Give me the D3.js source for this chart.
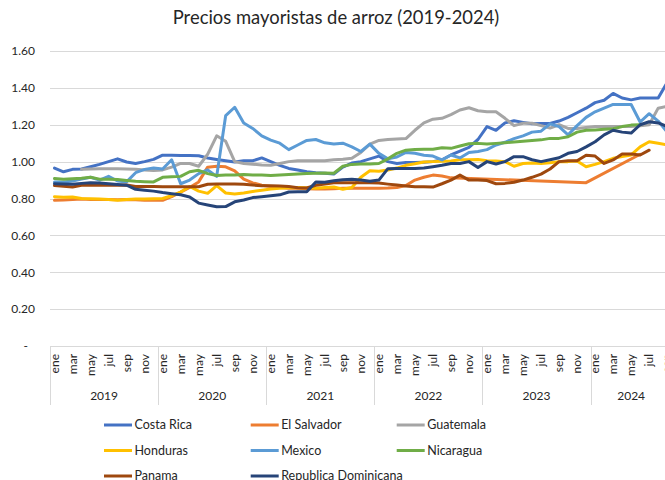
<!DOCTYPE html>
<html>
<head>
<meta charset="utf-8">
<script src="https://cdn.jsdelivr.net/npm/d3@7"></script>
<style>
body { margin: 0; background: #fff; }
svg { display: block; font-family: Lato, 'Open Sans', sans-serif; }
</style>
</head>
<body>
<script>
// category labels
var monthNames = ['ene', 'feb', 'mar', 'abr', 'may', 'jun', 'jul', 'ago', 'sep', 'oct', 'nov', 'dic'];
var years = [2019, 2020, 2021, 2022, 2023, 2024];
var yTicks = [0, 0.2, 0.4, 0.6, 0.8, 1.0, 1.2, 1.4, 1.6];

// monthly prices, ene 2019 .. sep 2024 (null = no value, line is connected over it)
var costaRica = [
	0.965, 0.945, 0.958, 0.96, 0.972, 0.985, 1.0, 1.015, 0.998, 0.99, 1.0, 1.012,
	1.035, 1.034, 1.033, 1.033, 1.032, 1.02, 1.012, 1.005, 0.998, 1.005, 1.005, 1.02,
	1.0, 0.98, 0.963, 0.955, 0.945, 0.94, 0.937, 0.933, 0.97, 0.992, 1.0, 1.015,
	1.03, 1.0, 0.99, 0.995, 0.995, 0.997, 1.0, 1.01, 1.036, 1.057, 1.077, 1.12,
	1.19, 1.17, 1.21, 1.222, 1.213, 1.205, 1.207, 1.207, 1.22, 1.24, 1.265, 1.29,
	1.32, 1.333, 1.37, 1.345, 1.335, 1.345, 1.345, 1.345, 1.43
];
var elSalvador = [
	0.79, 0.792, 0.795, 0.797, 0.795, 0.795, 0.795, 0.793, 0.795, 0.793, 0.79, 0.79,
	0.79, 0.81, 0.835, 0.86, 0.89, 0.97, 0.975, 0.972, 0.95, 0.905, 0.885, 0.872,
	0.865, 0.86, 0.855, 0.855, 0.853, 0.852, 0.852, 0.853, 0.855, 0.855, 0.855, 0.856,
	0.856, 0.857, 0.86, 0.87, 0.9, 0.915, 0.927, 0.922, 0.912, null, null, null,
	null, null, null, null, null, null, null, null, null, null, null, 0.886,
	null, null, null, null, null, 1.04, null, null, null
];
var guatemala = [
	null, null, null, 0.958, 0.96, 0.962, 0.962, 0.962, 0.96, 0.958, 0.955, 0.952,
	0.955, 0.97, 0.99, 0.99, 0.975, 1.04, 1.14, 1.11, 1.0, 0.99, 0.986, 0.982,
	0.98, 0.99, 1.0, 1.005, 1.005, 1.005, 1.005, 1.01, 1.013, 1.018, 1.05, 1.095,
	1.115, 1.12, 1.123, 1.125, 1.17, 1.21, 1.23, 1.235, 1.255, 1.28, 1.292, 1.276,
	1.27, 1.27, 1.235, 1.195, 1.208, 1.208, 1.195, 1.182, 1.2, 1.18, 1.18, 1.185,
	1.19, 1.19, 1.19, 1.19, 1.19, 1.195, 1.2, 1.29, 1.3
];
var honduras = [
	0.81, 0.807, 0.808, 0.8, 0.798, 0.797, 0.795, 0.79, 0.795, 0.797, 0.797, 0.798,
	0.8, 0.815, 0.835, 0.865, 0.84, 0.828, 0.87, 0.83, 0.825, 0.83, 0.838, 0.845,
	0.852, 0.855, 0.858, 0.86, 0.858, 0.855, 0.86, 0.862, 0.85, 0.86, 0.915, 0.95,
	0.948, 0.955, 0.965, 0.98, 0.988, 0.998, 1.0, 1.002, 1.004, 1.01, 1.01, 1.012,
	1.005, 1.003, 1.0, 0.975, 0.99, 0.993, 0.99, 0.994, 1.0, 1.0, 1.003, 0.972,
	0.985, 1.0, 1.018, 1.027, 1.036, 1.08, 1.108, 1.1, 1.09
];
var mexico = [
	0.89, 0.89, 0.895, 0.905, 0.915, 0.9, 0.92, 0.895, 0.89, 0.94, 0.958, 0.965,
	0.96, 1.01, 0.88, 0.9, 0.935, 0.955, 0.92, 1.25, 1.295, 1.21, 1.18, 1.14,
	1.117, 1.1, 1.065, 1.09, 1.115, 1.12, 1.102, 1.095, 1.1, 1.08, 1.055, 1.095,
	1.045, 1.015, 1.025, 1.05, 1.045, 1.035, 1.03, 1.009, 1.036, 1.02, 1.05, 1.055,
	1.065, 1.09, 1.105, 1.125, 1.14, 1.16, 1.165, 1.205, 1.19, 1.145, 1.195, 1.24,
	1.27, 1.29, 1.31, 1.31, 1.31, 1.215, 1.26, 1.22, 1.16
];
var nicaragua = [
	0.908, 0.905, 0.907, 0.91, 0.915, 0.905, 0.905, 0.903, 0.898, 0.893, 0.891, 0.89,
	0.915, 0.918, 0.92, 0.945, 0.953, 0.935, 0.925, 0.927, 0.928, 0.93, 0.928, 0.927,
	0.925, 0.927, 0.93, 0.933, 0.935, 0.937, 0.938, 0.937, 0.975, 0.985, 0.987, 0.987,
	0.99, 1.015, 1.045, 1.062, 1.066, 1.067, 1.067, 1.075, 1.072, 1.085, 1.097, 1.099,
	1.095, 1.099, 1.103, 1.107, 1.111, 1.115, 1.118, 1.126, 1.126, 1.135, 1.16, 1.17,
	1.172, 1.175, 1.178, 1.19, 1.198, 1.2, null, null, null
];
var panama = [
	0.87, 0.866, 0.862, 0.872, 0.872, 0.872, 0.872, 0.872, 0.873, 0.865, 0.865, 0.865,
	0.864, 0.864, 0.864, 0.864, 0.864, 0.877, 0.879, 0.879, 0.879, 0.877, 0.873, 0.869,
	0.869, 0.868, 0.865, 0.858, 0.857, 0.872, 0.879, 0.885, 0.886, 0.886, 0.886, 0.886,
	0.884, 0.878, 0.873, 0.868, 0.864, 0.864, 0.862, 0.88, 0.9, 0.927, 0.9, 0.9,
	0.897, 0.88, 0.882, 0.888, 0.9, 0.915, 0.932, 0.96, 1.0, 1.005, 1.005, 1.035,
	1.03, 0.99, 1.009, 1.041, 1.041, 1.036, 1.062, null, null
];
var repDominicana = [
	0.88, 0.878, 0.877, 0.882, 0.886, 0.884, 0.88, 0.876, 0.872, 0.85, 0.845, 0.84,
	0.832, 0.826, 0.82, 0.808, 0.775, 0.765, 0.755, 0.756, 0.782, 0.792, 0.805, 0.81,
	0.815, 0.82, 0.835, 0.837, 0.837, 0.89, 0.888, 0.896, 0.902, 0.904, 0.9, 0.893,
	0.9, 0.962, 0.963, 0.963, 0.963, 0.965, 0.972, 0.98, 0.99, 0.99, 1.0, 0.968,
	1.0, 0.987, 1.0, 1.027, 1.027, 1.01, 1.0, 1.01, 1.021, 1.045, 1.055, 1.08,
	1.108, 1.145, 1.17, 1.16, 1.155, 1.2, 1.216, 1.21, 1.19
];

var countries = ['Costa Rica', 'El Salvador', 'Guatemala', 'Honduras', 'Mexico', 'Nicaragua', 'Panama', 'Republica Dominicana'];
var seriesValues = [costaRica, elSalvador, guatemala, honduras, mexico, nicaragua, panama, repDominicana];
var colors = ['#4472C4', '#ED7D31', '#A5A5A5', '#FFC000', '#5B9BD5', '#70AD47', '#9E480E', '#264478'];

// layout
var svgW = 665, svgH = 480;
var left = 50, monthW = 9.01;
var top_y = 51, bottom_y = 346;
var nMonths = costaRica.length;
var gridColor = '#d9d9d9', textColor = '#262626';

function plot_it() {
	var svg = d3.select('body').append('svg')
		.attr('width', svgW)
		.attr('height', svgH);

	var x = d3.scaleBand()
		.domain(d3.range(nMonths))
		.range([left, left + nMonths * monthW]);
	var right = left + nMonths * monthW;
	var y = d3.scaleLinear()
		.domain([0, 1.6])
		.range([bottom_y, top_y]);

	// title
	svg.append('text')
		.attr('x', 336).attr('y', 24)
		.attr('text-anchor', 'middle')
		.attr('font-size', '18.4px')
		.attr('fill', textColor)
		.text('Precios mayoristas de arroz (2019-2024)');

	// gridlines
	svg.append('g').attr('id', 'grid')
		.selectAll('line')
		.data(yTicks)
		.enter()
		.append('line')
		.attr('x1', left).attr('x2', right)
		.attr('y1', function(d){return Math.round(y(d)) + 0.5})
		.attr('y2', function(d){return Math.round(y(d)) + 0.5})
		.attr('stroke', gridColor)
		.attr('stroke-width', 1);

	// y axis labels
	var yAxis = d3.axisLeft(y)
		.tickValues(yTicks)
		.tickSize(0)
		.tickPadding(15)
		.tickFormat(function(d){return d === 0 ? '-' : d3.format('.2f')(d)});
	var yg = svg.append('g').attr('id', 'yaxis')
		.attr('transform', 'translate(' + left + ',0)')
		.call(yAxis);
	yg.select('.domain').remove();
	yg.selectAll('text')
		.attr('font-size', '12px')
		.attr('font-family', 'Lato, sans-serif')
		.attr('fill', textColor);
	yg.selectAll('.tick')
		.filter(function(d){return d === 0})
		.select('text')
		.attr('x', -22);

	// category axis: month labels, year labels, separators
	var xg = svg.append('g').attr('id', 'xaxis');
	var monthIdx = d3.range(nMonths).filter(function(i){return i % 2 === 0});
	xg.selectAll('.month')
		.data(monthIdx)
		.enter()
		.append('text')
		.attr('class', 'month')
		.attr('transform', function(i){
			return 'translate(' + (x(i) + x.bandwidth() / 2) + ',354) rotate(-90)';
		})
		.attr('text-anchor', 'end')
		.attr('dy', '0.35em')
		.attr('font-size', '12px')
		.attr('fill', textColor)
		.text(function(i){return monthNames[i % 12]});

	var yearStart = years.map(function(yr, k){return k * 12});
	xg.selectAll('.year')
		.data(years)
		.enter()
		.append('text')
		.attr('class', 'year')
		.attr('x', function(yr, k){
			var a = x(k * 12), b = x(Math.min(k * 12 + 11, nMonths - 1)) + x.bandwidth();
			return (a + b) / 2;
		})
		.attr('y', 400)
		.attr('text-anchor', 'middle')
		.attr('font-size', '12px')
		.attr('fill', textColor)
		.text(function(d){return d});

	xg.selectAll('.sep')
		.data(yearStart.concat([nMonths]))
		.enter()
		.append('line')
		.attr('class', 'sep')
		.attr('x1', function(i){return Math.round(left + i * monthW) + 0.5})
		.attr('x2', function(i){return Math.round(left + i * monthW) + 0.5})
		.attr('y1', bottom_y).attr('y2', 405)
		.attr('stroke', gridColor);

	// lines
	var line = d3.line()
		.x(function(d){return x(d.i) + x.bandwidth() / 2})
		.y(function(d){return y(d.v)});

	svg.append('g').attr('id', 'series')
		.selectAll('path')
		.data(seriesValues)
		.enter()
		.append('path')
		.attr('d', function(vals){
			var pts = vals.map(function(v, i){return {i: i, v: v}})
				.filter(function(d){return d.v !== null});
			return line(pts);
		})
		.attr('fill', 'none')
		.attr('stroke', function(d, k){return colors[k]})
		.attr('stroke-width', 3)
		.attr('stroke-linejoin', 'round')
		.attr('stroke-linecap', 'round');

	// legend
	var colX = [104, 250.7, 396.7], rowY = [425, 450.5, 476];
	var leg = svg.append('g').attr('id', 'legend')
		.selectAll('g')
		.data(countries)
		.enter()
		.append('g')
		.attr('transform', function(d, k){
			return 'translate(' + colX[k % 3] + ',' + rowY[Math.floor(k / 3)] + ')';
		});
	leg.append('line')
		.attr('x1', 0).attr('x2', 28)
		.attr('y1', 0).attr('y2', 0)
		.attr('stroke', function(d, k){return colors[k]})
		.attr('stroke-width', 3);
	leg.append('text')
		.attr('x', 30.5)
		.attr('dy', '0.35em')
		.attr('font-size', '12.5px')
		.attr('fill', textColor)
		.text(function(d){return d});
}

plot_it();
</script>
</body>
</html>
